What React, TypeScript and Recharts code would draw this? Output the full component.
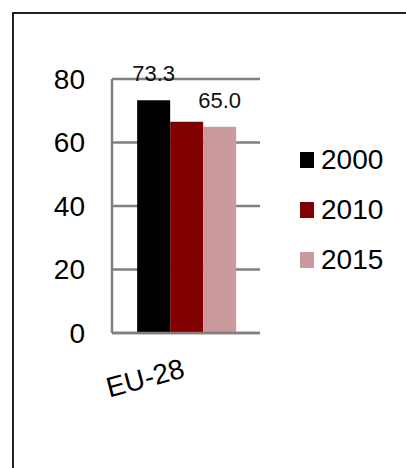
import React from 'react';
import { BarChart, Bar, CartesianGrid, XAxis, YAxis, Legend, LabelList } from 'recharts';

const categories = ['EU-28'];
const years = ['2000', '2010', '2015'];
const values2000 = [73.3];
const values2010 = [66.5];
const values2015 = [65.0];
const yTicks = [0, 20, 40, 60, 80];
const colors = ['#000000', '#800000', '#c9999e'];

const data = categories.map((c, i) => ({
  name: c,
  y2000: values2000[i],
  y2010: values2010[i],
  y2015: values2015[i],
}));

const font = '"Liberation Sans", Arial, sans-serif';

const CatTick = (props: any) => {
  const { x, y, payload } = props;
  const ty = y + 40;
  return (
    <text
      x={x}
      y={ty}
      textAnchor="end"
      fontSize={28}
      fill="#000"
      fontFamily={font}
      transform={`rotate(-15, ${x}, ${ty})`}
    >
      {payload.value}
    </text>
  );
};

const LegendBox = () => (
  <div style={{ fontFamily: font }}>
    {years.map((y, i) => (
      <div key={y} style={{ height: 50, display: 'flex', alignItems: 'center' }}>
        <div style={{ width: 14, height: 16, background: colors[i], marginRight: 7 }} />
        <span style={{ fontSize: 28, color: '#000' }}>{y}</span>
      </div>
    ))}
  </div>
);

const App = () => {
  return (
    <div style={{ position: 'fixed', left: 0, top: 0, width: 406, height: 468, overflow: 'hidden', background: '#fff' }}>
      <div
        style={{
          position: 'absolute',
          left: 12,
          top: 12,
          width: 420,
          height: 480,
          borderTop: '2px solid #222',
          borderLeft: '2px solid #222',
        }}
      />
      <BarChart
        width={406}
        height={468}
        data={data}
        margin={{ top: 79, right: 146, left: 0, bottom: 0 }}
        barCategoryGap="17%"
        barGap={0}
        style={{ position: 'absolute', left: 0, top: 0 }}
      >
        <CartesianGrid horizontal vertical={false} stroke="#808080" strokeWidth={2.5} />
        <XAxis
          dataKey="name"
          height={135}
          tickLine={false}
          tickSize={0}
          tickMargin={4}
          axisLine={{ stroke: '#808080', strokeWidth: 2.5 }}
          tick={<CatTick />}
          interval={0}
        />
        <YAxis
          width={112}
          domain={[0, 80]}
          ticks={yTicks}
          tickLine={false}
          tickSize={0}
          tickMargin={27}
          axisLine={{ stroke: '#808080', strokeWidth: 2.5 }}
          tick={{ fontSize: 28, fill: '#000', fontFamily: font }}
        />
        <Legend
          layout="vertical"
          align="center"
          verticalAlign="middle"
          content={<LegendBox />}
          wrapperStyle={{ left: 300, top: 135, width: 106, height: 150 }}
        />
        <Bar dataKey="y2000" name={years[0]} fill={colors[0]} isAnimationActive={false}>
          <LabelList
            dataKey="y2000"
            position="top"
            offset={19}
            formatter={(v: any) => Number(v).toFixed(1)}
            style={{ fontSize: 22, fill: '#111', fontFamily: font }}
          />
        </Bar>
        <Bar dataKey="y2010" name={years[1]} fill={colors[1]} isAnimationActive={false} />
        <Bar dataKey="y2015" name={years[2]} fill={colors[2]} isAnimationActive={false}>
          <LabelList
            dataKey="y2015"
            position="top"
            offset={19}
            formatter={(v: any) => Number(v).toFixed(1)}
            style={{ fontSize: 22, fill: '#111', fontFamily: font }}
          />
        </Bar>
      </BarChart>
    </div>
  );
};

export default App;
